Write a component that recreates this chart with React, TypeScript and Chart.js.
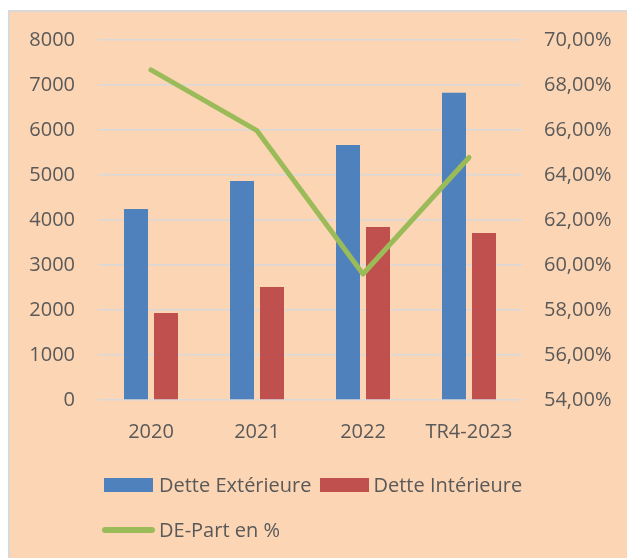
import React, { useEffect, useRef } from "react";
import { Chart, registerables } from "chart.js";

Chart.register(...registerables);

const categories = ["2020", "2021", "2022", "TR4-2023"];
const detteExterieure = [4244, 4867, 5667, 6829];
const detteInterieure = [1933, 2511, 3844, 3711];
const dePart = [68.67, 65.97, 59.6, 64.78];

const seriesNames = ["Dette Extérieure", "Dette Intérieure", "DE-Part en %"];

const BLUE = "#4F81BD";
const RED = "#C0504D";
const GREEN = "#9BBB59";
const BG = "#FCD5B4";
const TEXT = "#595959";
const GRID = "#D9D9D9";
const FONT = "'Open Sans', sans-serif";
const FONT_SIZE = 20;

const CW = 617;
const CH = 546;

export default function App() {
  const ref = useRef<HTMLCanvasElement | null>(null);

  useEffect(() => {
    if (!ref.current) return;
    const chart = new Chart(ref.current, {
      data: {
        labels: categories,
        datasets: [
          {
            type: "line",
            label: seriesNames[2],
            data: dePart,
            yAxisID: "y1",
            borderColor: GREEN,
            backgroundColor: GREEN,
            borderWidth: 5,
            pointRadius: 0,
            tension: 0,
            borderCapStyle: "round",
            borderJoinStyle: "round",
            order: 0,
          },
          {
            type: "bar",
            label: seriesNames[0],
            data: detteExterieure,
            yAxisID: "y",
            backgroundColor: BLUE,
            categoryPercentage: 0.566,
            barPercentage: 0.8,
            order: 1,
          },
          {
            type: "bar",
            label: seriesNames[1],
            data: detteInterieure,
            yAxisID: "y",
            backgroundColor: RED,
            categoryPercentage: 0.566,
            barPercentage: 0.8,
            order: 2,
          },
        ],
      } as any,
      options: {
        responsive: false,
        animation: false,
        maintainAspectRatio: false,
        layout: { padding: { left: 0, right: 0, top: 28, bottom: 98 } },
        plugins: {
          legend: { display: false },
          tooltip: { enabled: false },
          title: { display: false },
        },
        scales: {
          x: {
            grid: { display: false, drawTicks: false },
            border: { display: false },
            ticks: {
              color: TEXT,
              font: { family: FONT, size: FONT_SIZE },
              padding: 20,
              maxRotation: 0,
              autoSkip: false,
            },
            afterFit: (s: any) => {
              s.height = 60;
              s.paddingLeft = 0;
              s.paddingRight = 0;
            },
          },
          y: {
            position: "left",
            min: 0,
            max: 8000,
            grid: { color: GRID, lineWidth: 1.5, drawTicks: false },
            border: { display: false },
            ticks: {
              stepSize: 1000,
              color: TEXT,
              font: { family: FONT, size: FONT_SIZE },
              padding: 23,
              callback: (v: any) => String(v),
            },
            afterFit: (s: any) => {
              s.width = 88;
              s.paddingTop = 0;
              s.paddingBottom = 0;
            },
          },
          y1: {
            position: "right",
            min: 54,
            max: 70,
            grid: { display: false, drawTicks: false },
            border: { display: false },
            ticks: {
              stepSize: 2,
              color: TEXT,
              font: { family: FONT, size: FONT_SIZE },
              padding: 22,
              callback: (v: any) => Number(v).toFixed(2).replace(".", ",") + "%",
            },
            afterFit: (s: any) => {
              s.width = 105;
              s.paddingTop = 0;
              s.paddingBottom = 0;
            },
          },
        },
      } as any,
    });
    return () => chart.destroy();
  }, []);

  const textStyle: React.CSSProperties = {
    fontFamily: FONT,
    fontSize: FONT_SIZE,
    color: TEXT,
    whiteSpace: "nowrap",
    lineHeight: "24px",
  };

  return (
    <div
      style={{
        position: "absolute",
        left: 8,
        top: 10,
        width: CW + 2,
        height: CH + 2,
        boxSizing: "border-box",
        borderTop: "2px solid #D9D9D9",
        borderLeft: "2px solid #D9D9D9",
        background: BG,
        overflow: "hidden",
      }}
    >
      <canvas
        ref={ref}
        width={CW}
        height={CH}
        style={{ position: "absolute", left: 0, top: 0, display: "block" }}
      />
      <div
        style={{
          position: "absolute",
          left: 94,
          top: 461,
          height: 24,
          display: "flex",
          alignItems: "center",
        }}
      >
        <div style={{ width: 49, height: 14, background: BLUE, marginRight: 6 }} />
        <span style={textStyle}>{seriesNames[0]}</span>
        <div style={{ width: 49, height: 14, background: RED, marginLeft: 8, marginRight: 5 }} />
        <span style={textStyle}>{seriesNames[1]}</span>
      </div>
      <div
        style={{
          position: "absolute",
          left: 92,
          top: 506,
          height: 24,
          display: "flex",
          alignItems: "center",
        }}
      >
        <div style={{ width: 53, height: 6, borderRadius: 3, background: GREEN, marginRight: 4 }} />
        <span style={textStyle}>{seriesNames[2]}</span>
      </div>
    </div>
  );
}
